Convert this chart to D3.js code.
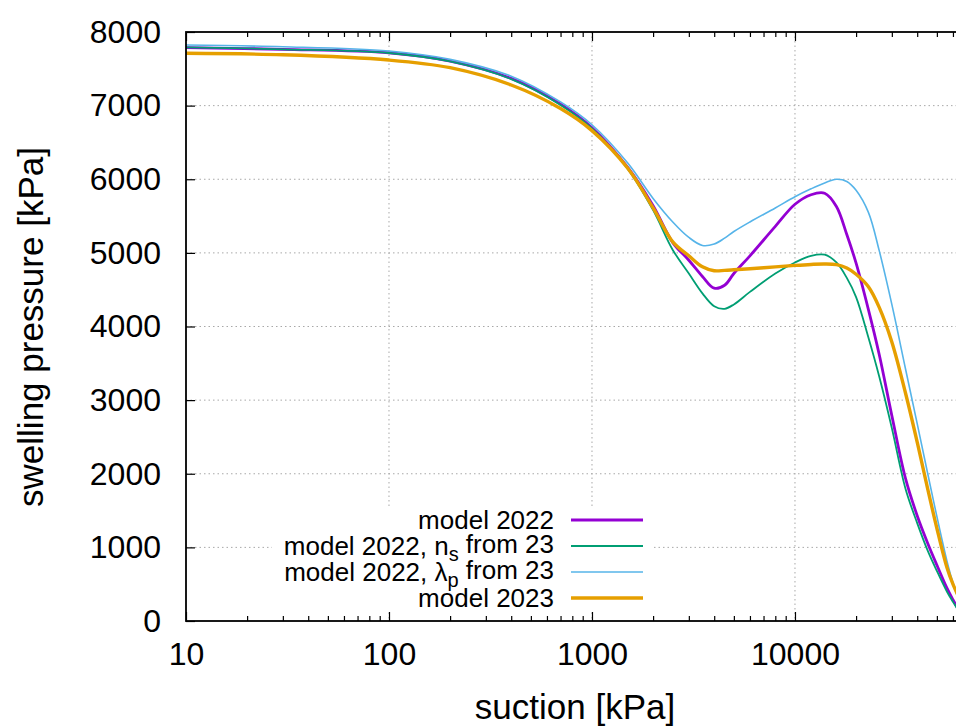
<!DOCTYPE html>
<meta charset="utf-8">
<head>
<title>Swelling pressure</title>
<script src="https://d3js.org/d3.v7.min.js"></script>
<style>
  body { margin: 0; background: white; }
  text { font-family: "Liberation Sans", Arial, sans-serif; fill: black; }
</style>
</head>
<body>
<div id="chart"></div>
<script>

// suction values [kPa] shared by all curves
let suction = [10, 30, 100, 200, 400, 700, 1000, 1500, 2000, 2500, 3000, 3500, 4000, 4500, 5000, 6000,
               8000, 10000, 12000, 14000, 16000, 18000, 20000, 23000, 26000, 30000, 35000, 40000, 45000,
               50000, 56000, 60000, 65000];

// swelling pressure [kPa] for each model
let model2022 = [7787, 7765, 7718, 7605, 7370, 7020, 6700, 6160, 5640, 5140, 4900, 4680, 4520, 4560, 4720, 4960,
                 5360, 5660, 5790, 5810, 5630, 5250, 4860, 4230, 3620, 2790, 1940, 1430, 1060,
                 760, 450, 290, 120];
let model2022ns = [7790, 7765, 7715, 7600, 7360, 7010, 6690, 6140, 5580, 5040, 4720, 4450, 4275, 4240, 4300, 4470,
                   4720, 4870, 4960, 4975, 4870, 4660, 4400, 3850, 3320, 2620, 1800, 1330, 960,
                   680, 400, 260, 110];
let model2022lp = [7823, 7800, 7741, 7628, 7400, 7050, 6740, 6220, 5740, 5420, 5210, 5100, 5120, 5200, 5290, 5420,
                   5610, 5763, 5870, 5950, 6000, 5970, 5850, 5550, 5030, 4300, 3430, 2680, 2010,
                   1420, 820, 520, 250];
let model2023 = [7711, 7690, 7619, 7515, 7280, 6960, 6660, 6150, 5610, 5150, 4960, 4810, 4757, 4762, 4770, 4785,
                 4810, 4830, 4843, 4849, 4840, 4795, 4710, 4540, 4260, 3790, 3100, 2430, 1800,
                 1260, 730, 500, 290];

let xMajor = [10, 100, 1000, 10000];
let yTicks = [0, 1000, 2000, 3000, 4000, 5000, 6000, 7000, 8000];

let series = [
    {name: ["model 2022"], values: model2022, color: "#9400d3", width: 2.8},
    {name: ["model 2022, n", "s", " from 23"], values: model2022ns, color: "#009e73", width: 1.8},
    {name: ["model 2022, λ", "p", " from 23"], values: model2022lp, color: "#56b4e9", width: 1.6},
    {name: ["model 2023"], values: model2023, color: "#e69f00", width: 3.4}
];

let w = 956;
let h = 727;
let pLeft = 186, pTop = 32, pRight = 960, pBottom = 621;

let svg = d3.select("#chart")
            .append("svg")
            .attr("width", w)
            .attr("height", h);

let x = d3.scaleLog().domain([10, 65000]).range([pLeft, pRight]);
let y = d3.scaleLinear().domain([0, 8000]).range([pBottom, pTop]);

// minor ticks 2..9 of each decade
let xMinor = [];
for (let d = 10; d < 65000; d *= 10) {
    for (let k = 2; k < 10; k++) {
        if (d * k < 65000) xMinor.push(d * k);
    }
}

svg.append("clipPath").attr("id", "clip")
   .append("rect")
   .attr("x", pLeft).attr("y", pTop)
   .attr("width", pRight - pLeft).attr("height", pBottom - pTop);

// grid
svg.append("g")
   .selectAll("line")
   .data(yTicks.slice(1, -1))
   .enter()
   .append("line")
   .attr("x1", pLeft).attr("x2", pRight)
   .attr("y1", (d) => y(d)).attr("y2", (d) => y(d))
   .style("stroke", "#a8a8a8")
   .style("stroke-width", 1)
   .style("stroke-dasharray", "1.5,3");

svg.append("g")
   .selectAll("line")
   .data(xMajor.slice(1))
   .enter()
   .append("line")
   .attr("x1", (d) => x(d)).attr("x2", (d) => x(d))
   .attr("y1", pTop).attr("y2", pBottom)
   .style("stroke", "#a8a8a8")
   .style("stroke-width", 1)
   .style("stroke-dasharray", "1.5,3");

// curves
let line = d3.line()
             .x((d) => x(d[0]))
             .y((d) => y(d[1]))
             .curve(d3.curveCatmullRom.alpha(0.5));

let plot = svg.append("g").attr("clip-path", "url(#clip)");

// legend box is opaque, it hides the grid
let legendRight = 554;
let legendRows = [520, 546, 572, 598];

svg.append("rect")
   .attr("x", 272).attr("y", 506)
   .attr("width", 380).attr("height", 106)
   .style("fill", "white");

series.forEach((s) => {
    plot.append("path")
        .datum(suction.map((v, i) => [v, s.values[i]]))
        .attr("d", line)
        .style("fill", "none")
        .style("stroke", s.color)
        .style("stroke-width", s.width)
        .style("stroke-linejoin", "round");
});

// axes, ticks point inwards like gnuplot
let fontSize = 32;

let gx = svg.append("g")
            .attr("transform", "translate(0," + pBottom + ")")
            .call(d3.axisBottom(x).tickValues(xMajor).tickFormat(d3.format("d")).tickSize(-9).tickPadding(21));
gx.select(".domain").remove();
gx.selectAll("text").style("font-size", fontSize + "px").style("font-family", "Liberation Sans, Arial, sans-serif");

let gxm = svg.append("g")
             .attr("transform", "translate(0," + pBottom + ")")
             .call(d3.axisBottom(x).tickValues(xMinor).tickFormat("").tickSize(-5));
gxm.select(".domain").remove();

let gt = svg.append("g")
            .attr("transform", "translate(0," + pTop + ")")
            .call(d3.axisTop(x).tickValues(xMajor).tickFormat("").tickSize(-9));
gt.select(".domain").remove();

let gtm = svg.append("g")
             .attr("transform", "translate(0," + pTop + ")")
             .call(d3.axisTop(x).tickValues(xMinor).tickFormat("").tickSize(-5));
gtm.select(".domain").remove();

let gy = svg.append("g")
            .attr("transform", "translate(" + pLeft + ",0)")
            .call(d3.axisLeft(y).tickValues(yTicks).tickFormat(d3.format("d")).tickSize(-9).tickPadding(25));
gy.select(".domain").remove();
gy.selectAll("text").style("font-size", fontSize + "px").style("font-family", "Liberation Sans, Arial, sans-serif");

svg.selectAll(".tick line").style("stroke", "black").style("stroke-width", 1.2);

// frame
svg.append("rect")
   .attr("x", pLeft).attr("y", pTop)
   .attr("width", pRight - pLeft).attr("height", pBottom - pTop)
   .style("fill", "none")
   .style("stroke", "black")
   .style("stroke-width", 1.8);

// axis titles
svg.append("text")
   .attr("x", 575)
   .attr("y", 719)
   .attr("text-anchor", "middle")
   .style("font-size", "35px")
   .text("suction [kPa]");

svg.append("text")
   .attr("transform", "translate(31,327) rotate(-90)")
   .attr("text-anchor", "middle")
   .attr("dy", "0.35em")
   .style("font-size", "35px")
   .text("swelling pressure [kPa]");

// legend
series.forEach((s, i) => {
    let t = svg.append("text")
               .attr("x", legendRight)
               .attr("y", legendRows[i])
               .attr("dy", "0.35em")
               .attr("text-anchor", "end")
               .style("font-size", "26px");
    t.append("tspan").text(s.name[0]);
    if (s.name.length > 1) {
        t.append("tspan").attr("dy", "0.3em").style("font-size", "20px").text(s.name[1]);
        t.append("tspan").attr("dy", "-0.3em").text(s.name[2]);
    }
    svg.append("line")
       .attr("x1", 571).attr("x2", 643)
       .attr("y1", legendRows[i]).attr("y2", legendRows[i])
       .style("stroke", s.color)
       .style("stroke-width", s.width);
});

</script>
</body>
